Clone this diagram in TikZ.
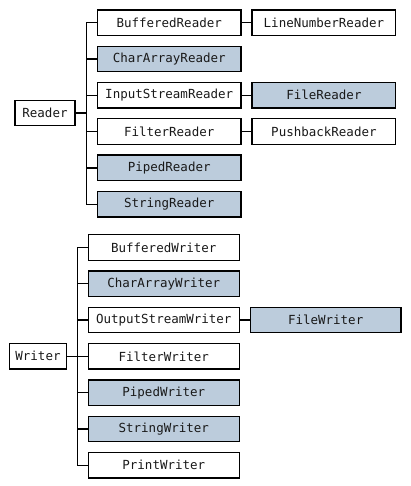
\documentclass[tikz,border=0pt]{standalone}
\usepackage{fontspec}
\setmonofont{DejaVu Sans Mono}
\usetikzlibrary{positioning}

\begin{document}
\begin{tikzpicture}[
            x=1pt,y=1pt,
            node distance=10.8pt and 11pt,
            lnk/.style={line width=1.3pt}
        ]
            \definecolor{shd}{HTML}{BCCCDC}
            \tikzset{
                cls/.style={draw,line width=1.3pt,outer sep=0pt,minimum height=25.5pt,
                    inner sep=0pt,text=black!90,font=\ttfamily\fontsize{12.5}{14}\selectfont},
                rcol/.style={cls,minimum width=143.7pt},
                wcol/.style={cls,minimum width=151pt},
                abs/.style={fill=shd}
            }
            \useasboundingbox (0,0) rectangle (410,486);

            % readers
            \node (reader) at (45,373) [cls,minimum width=60pt] {Reader};
            \begin{scope}[every node/.style={rcol}]
                \node (bufr) at (169.2,463.3)       {BufferedReader};
                \node (carr) [below=of bufr,abs]   {CharArrayReader};
                \node (isr)  [below=of carr]       {InputStreamReader};
                \node (fltr) [below=of isr]        {FilterReader};
                \node (pipr) [below=of fltr,abs]   {PipedReader};
                \node (strr) [below=of pipr,abs]   {StringReader};
                \node (lnr)  [right=of bufr]       {LineNumberReader};
                \node (filr) [right=of isr,abs]    {FileReader};
                \node (pbr)  [right=of fltr]       {PushbackReader};
            \end{scope}
            \coordinate (rj) at ([xshift=11.7pt]reader.east);
            \draw [lnk] (reader.east) -- (rj);
            \draw [lnk] (bufr.west) -- (rj |- bufr) -- (rj |- strr) -- (strr.west);
            \foreach \n in {carr,isr,fltr,pipr}
                \draw [lnk] (rj |- \n) -- (\n.west);
            \draw [lnk] (bufr) -- (lnr);
            \draw [lnk] (isr) -- (filr);
            \draw [lnk] (fltr) -- (pbr);

            % writers
            \node (writer) at (38,129.8) [cls,minimum width=57.4pt] {Writer};
            \begin{scope}[every node/.style={wcol}]
                \node (bufw) at (163.8,238.5)       {BufferedWriter};
                \node (carw) [below=of bufw,abs]   {CharArrayWriter};
                \node (osw)  [below=of carw]       {OutputStreamWriter};
                \node (fltw) [below=of osw]        {FilterWriter};
                \node (pipw) [below=of fltw,abs]   {PipedWriter};
                \node (strw) [below=of pipw,abs]   {StringWriter};
                \node (prw)  [below=of strw]       {PrintWriter};
                \node (filw) [right=of osw,abs,minimum width=150.7pt] {FileWriter};
            \end{scope}
            \coordinate (wj) at ([xshift=11pt]writer.east);
            \draw [lnk] (writer.east) -- (wj);
            \draw [lnk] (bufw.west) -- (wj |- bufw) -- (wj |- prw) -- (prw.west);
            \foreach \n in {carw,osw,fltw,pipw,strw}
                \draw [lnk] (wj |- \n) -- (\n.west);
            \draw [lnk] (osw) -- (filw);
\end{tikzpicture}
\end{document}
